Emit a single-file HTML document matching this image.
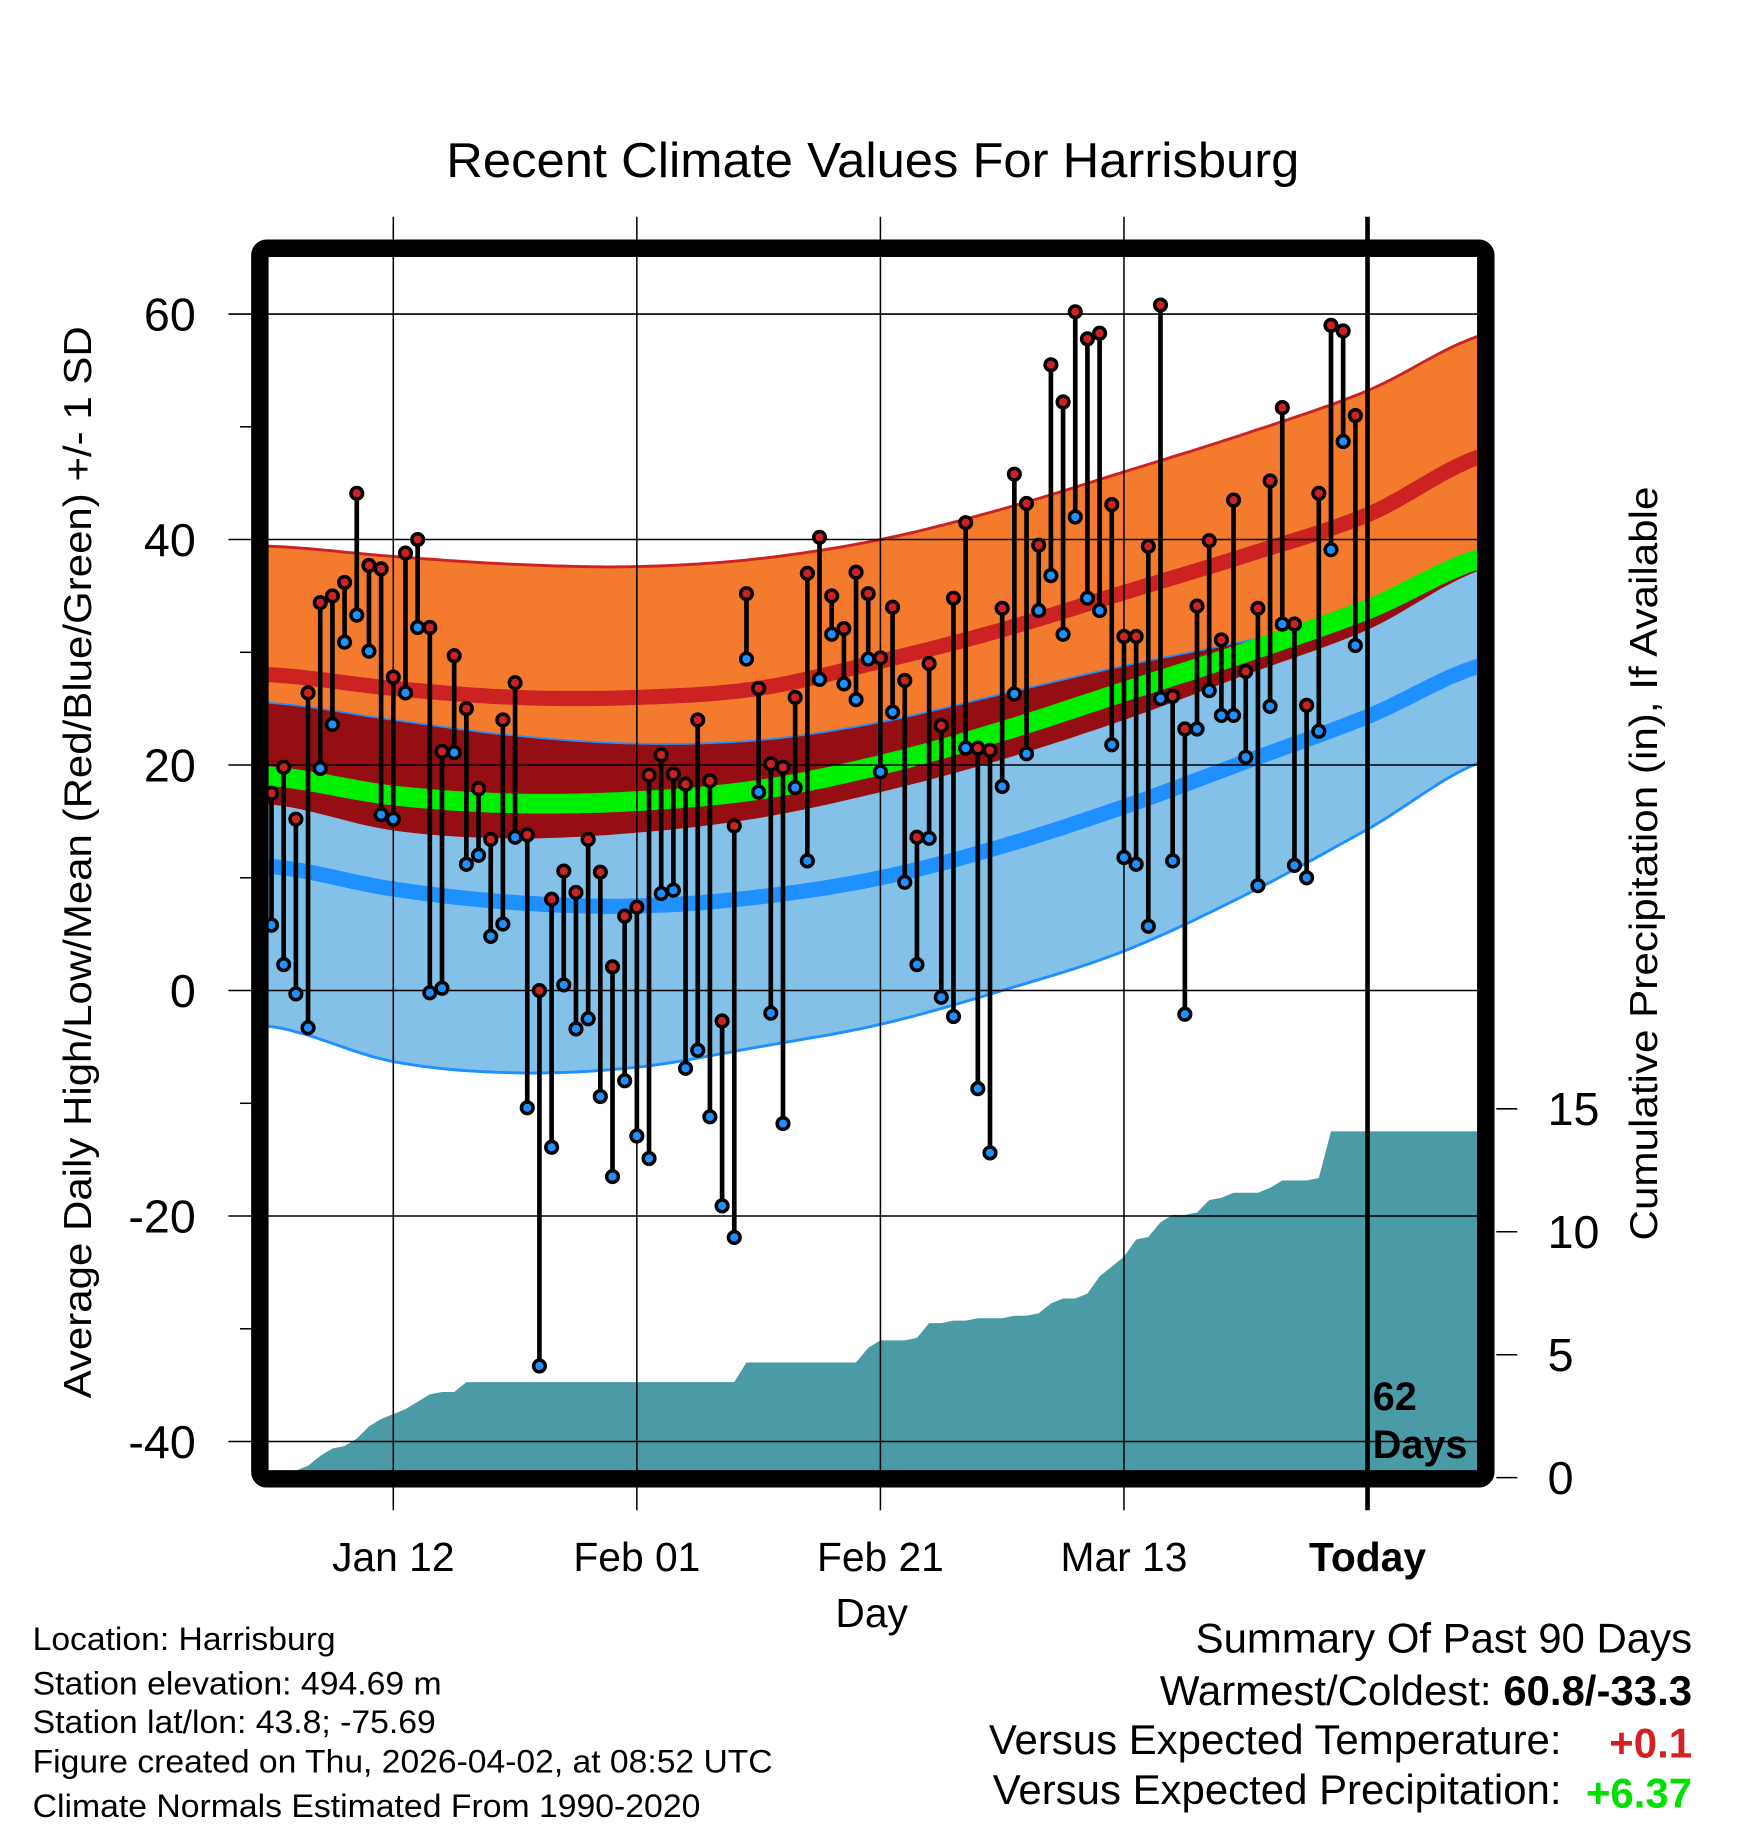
<!DOCTYPE html>
<html><head><meta charset="utf-8"><style>
html,body{margin:0;padding:0;background:#fff}
svg{display:block}
text{font-family:"Liberation Sans",sans-serif}
</style></head><body>
<svg id="chart" width="1748" height="1828" viewBox="0 0 1500 1568.65" xmlns="http://www.w3.org/2000/svg">
<defs><clipPath id="plotclip"><rect x="230" y="220" width="1038" height="1042"/></clipPath></defs>
<text x="749" y="152" font-size="42" text-anchor="middle" textLength="732" lengthAdjust="spacingAndGlyphs">Recent Climate Values For Harrisburg</text>
<g id="plot" clip-path="url(#plotclip)"></g>
<g id="over"></g>
<text transform="translate(78,740) rotate(-90)" font-size="33" text-anchor="middle" textLength="920" lengthAdjust="spacingAndGlyphs">Average Daily High/Low/Mean (Red/Blue/Green) +/- 1 SD</text>
<text transform="translate(1422,741) rotate(-90)" font-size="33" text-anchor="middle" textLength="647" lengthAdjust="spacingAndGlyphs">Cumulative Precipitation (in), If Available</text>
<text x="748" y="1396" font-size="35" text-anchor="middle">Day</text>
<g font-size="28">
<text x="28" y="1416" textLength="260" lengthAdjust="spacingAndGlyphs">Location: Harrisburg</text>
<text x="28" y="1454" textLength="351" lengthAdjust="spacingAndGlyphs">Station elevation: 494.69 m</text>
<text x="28" y="1487" textLength="346" lengthAdjust="spacingAndGlyphs">Station lat/lon: 43.8; -75.69</text>
<text x="28" y="1521" textLength="635" lengthAdjust="spacingAndGlyphs">Figure created on Thu, 2026-04-02, at 08:52 UTC</text>
<text x="28" y="1559" textLength="573" lengthAdjust="spacingAndGlyphs">Climate Normals Estimated From 1990-2020</text>
</g>
<g font-size="36">
<text x="1452" y="1418" text-anchor="end">Summary Of Past 90 Days</text>
<text x="1452" y="1463" text-anchor="end">Warmest/Coldest: <tspan font-weight="bold">60.8/-33.3</tspan></text>
<text x="1340" y="1505" text-anchor="end">Versus Expected Temperature:</text>
<text x="1452" y="1508" text-anchor="end" font-weight="bold" fill="#d42020">+0.1</text>
<text x="1340" y="1548" text-anchor="end">Versus Expected Precipitation:</text>
<text x="1452" y="1551" text-anchor="end" font-weight="bold" fill="#00e000">+6.37</text>
</g>
</svg>
<script>
const highs=[17.5,19.8,15.2,26.4,34.4,35,36.2,44.1,37.7,37.4,27.8,38.8,40,32.2,21.2,29.7,25,17.9,13.4,24,27.3,13.8,0,8.1,10.6,8.7,13.4,10.5,2.1,6.6,7.4,19.1,20.9,19.2,18.3,24,18.6,-2.7,14.6,35.2,26.8,20.1,19.8,26,37,40.2,35,32.1,37.1,35.2,29.5,34,27.5,13.6,29,23.5,34.8,41.5,21.5,21.3,33.9,45.8,43.2,39.5,55.5,52.2,60.2,57.8,58.3,43.1,31.4,31.4,39.4,60.8,26.1,23.2,34.1,39.9,31.1,43.5,28.3,33.9,45.2,51.7,32.5,25.3,44.1,59,58.5,51];
const lows=[5.8,2.3,-0.3,-3.3,19.7,23.6,30.9,33.3,30.1,15.6,15.2,26.4,32.2,-0.2,0.2,21.1,11.2,12,4.8,5.9,13.6,-10.4,-33.3,-13.9,0.5,-3.4,-2.5,-9.4,-16.5,-8,-12.9,-14.9,8.6,8.9,-6.9,-5.3,-11.2,-19.1,-21.9,29.4,17.6,-2,-11.8,18,11.5,27.6,31.6,27.2,25.8,29.4,19.4,24.7,9.6,2.3,13.5,-0.6,-2.3,21.5,-8.7,-14.4,18.1,26.3,21,33.7,36.8,31.6,42,34.8,33.7,21.8,11.8,11.2,5.7,25.9,11.5,-2.1,23.2,26.6,24.4,24.4,20.7,9.3,25.2,32.5,11.1,10,23,39.1,48.7,30.6];
const precip=[0,0,0,0.2,0.6,0.9,1.0,1.3,1.8,2.1,2.3,2.5,2.8,3.1,3.2,3.2,3.6,3.6,3.6,3.6,3.6,3.6,3.6,3.6,3.6,3.6,3.6,3.6,3.6,3.6,3.6,3.6,3.6,3.6,3.6,3.6,3.6,3.6,3.6,4.4,4.4,4.4,4.4,4.4,4.4,4.4,4.4,4.4,4.4,5.0,5.3,5.3,5.3,5.4,6.0,6.0,6.1,6.1,6.2,6.2,6.2,6.3,6.3,6.4,6.8,7.0,7.0,7.2,7.9,8.3,8.7,9.4,9.5,10.1,10.4,10.4,10.5,11.0,11.1,11.3,11.3,11.3,11.5,11.8,11.8,11.8,11.9,13.8,13.8,13.8];
const normalDays=[0,10,20,30,40,50,60,70,80,90,100];
const hiPlus=[39.4,38.5,37.8,37.6,38.3,40.0,42.7,46.0,49.4,53.2,58.3];
const hiMean=[28,26.8,26.0,26.0,26.8,29.2,32.0,35.3,38.6,42.2,47.6];
const loPlus=[25.5,24,22.6,21.9,22.2,23.8,26.3,28.8,31,33.5,38];
const avgMean=[19,17.3,16.6,16.8,17.8,20.0,23.0,26.5,30.0,33.8,38.5];
const hiMinus=[16.5,14.2,13.5,14,15.3,17.6,20.5,24,28,32,37.5];
const loMean=[11,9.0,7.8,7.5,8.3,10.0,12.8,16.3,20.3,24.3,29.0];
const loMinus=[-3.2,-6.3,-7.3,-6.8,-5.0,-3.0,0,3.5,8.5,14.3,20.5];
const yTicks=[60,40,20,0,-20,-40];
const pTicks=[0,5,10,15];
const xTickDays=[10,30,50,70,90];
const xTickLabels=["Jan 12","Feb 01","Feb 21","Mar 13","Today"];
const NS="http://www.w3.org/2000/svg";
const X=d=>233+10.45*d, Y=v=>850-9.675*v, P=p=>1262-21.1*p;
function mk(tag,attrs,parent){const e=document.createElementNS(NS,tag);for(const k in attrs)e.setAttribute(k,attrs[k]);parent.appendChild(e);return e;}
function interp(arr,d){let i=Math.floor(d/10);i=Math.max(0,Math.min(9,i));const t=(d-i*10)/10;
 const p0=arr[Math.max(0,i-1)],p1=arr[i],p2=arr[i+1],p3=arr[Math.min(10,i+2)];
 return 0.5*((2*p1)+(-p0+p2)*t+(2*p0-5*p1+4*p2-p3)*t*t+(-p0+3*p1-3*p2+p3)*t*t*t);}
const ds=[];for(let d=-1;d<=100;d+=0.5)ds.push(d);
function line(fn){return ds.map(d=>X(d).toFixed(1)+","+Y(fn(d)).toFixed(1)).join(" ");}
function band(fa,fb){return line(fa)+" "+ds.slice().reverse().map(d=>X(d).toFixed(1)+","+Y(fb(d)).toFixed(1)).join(" ");}
const plot=document.getElementById('plot'), over=document.getElementById('over');
const f=a=>d=>interp(a,d);
let e;
e=mk('polygon',{points:band(f(loPlus),f(loMinus)),fill:'#84c1e8'},plot);

e=mk('polygon',{points:band(f(hiPlus),f(hiMinus)),fill:'#f47b2e'},plot);

e=mk('polygon',{points:band(f(loPlus),d=>Math.min(interp(hiMinus,d),interp(loPlus,d))),fill:'#940e14'},plot);

e=mk('polyline',{points:line(f(loPlus)),fill:'none',stroke:'#1e90ff','stroke-width':1.5},plot);

e=mk('polyline',{points:line(f(loMinus)),fill:'none',stroke:'#1e90ff','stroke-width':2.5},plot);

e=mk('polyline',{points:line(f(hiPlus)),fill:'none',stroke:'#cc2222','stroke-width':2.5},plot);

e=mk('polyline',{points:line(f(hiMean)),fill:'none',stroke:'#cc2222','stroke-width':13},plot);

e=mk('polyline',{points:line(f(avgMean)),fill:'none',stroke:'#00ee00','stroke-width':17},plot);

e=mk('polyline',{points:line(f(loMean)),fill:'none',stroke:'#1e90ff','stroke-width':13},plot);

let pts=[X(0)+","+P(0)];precip.forEach((p,i)=>pts.push(X(i)+","+P(p)));
pts.push("1270,"+P(precip[precip.length-1]));pts.push("1270,"+P(0));
e=mk('polygon',{points:pts.join(" "),fill:'#4a9ba5'},plot);

yTicks.forEach(v=>{e=mk('line',{x1:196,x2:1268,y1:Y(v),y2:Y(v),stroke:'#000','stroke-width':1.3},over);
 
 e=mk('text',{x:168,y:Y(v)+14,'font-size':40,'text-anchor':'end'},over);e.textContent=v;
 });
[50,30,10,-10,-30].forEach(v=>{e=mk('line',{x1:206,x2:216,y1:Y(v),y2:Y(v),stroke:'#000','stroke-width':1.3},over);
 });
xTickDays.forEach((d,i)=>{const x=X(d);
 e=mk('line',{x1:x,x2:x,y1:186,y2:1296,stroke:'#000','stroke-width':i==4?4:1.3},over);
 
 e=mk('text',{x:x,y:1348,'font-size':35,'text-anchor':'middle','font-weight':i==4?'bold':'normal'},over);e.textContent=xTickLabels[i];
 });
pTicks.forEach(p=>{const y=1268-21.1*p;
 e=mk('line',{x1:1284,x2:1302,y1:y,y2:y,stroke:'#000','stroke-width':1.3},over);
 
 e=mk('text',{x:1328,y:y+14,'font-size':40},over);e.textContent=p;
 });
highs.forEach((h,i)=>{const x=X(i);
 e=mk('line',{x1:x,x2:x,y1:Y(h),y2:Y(lows[i]),stroke:'#000','stroke-width':4},over);
 });
highs.forEach((h,i)=>{const x=X(i);
 e=mk('circle',{cx:x,cy:Y(lows[i]),r:5,fill:'#1e90ff',stroke:'#000','stroke-width':3},over);
 
 e=mk('circle',{cx:x,cy:Y(h),r:5,fill:'#cc2222',stroke:'#000','stroke-width':3},over);
 });
e=mk('rect',{x:223,y:213,width:1052,height:1056,rx:6,fill:'none',stroke:'#000','stroke-width':15},over);

e=mk('text',{x:1178,y:1210,'font-size':34,'font-weight':'bold'},over);e.textContent="62";

e=mk('text',{x:1178,y:1251,'font-size':34,'font-weight':'bold'},over);e.textContent="Days";

</script>
</body></html>
